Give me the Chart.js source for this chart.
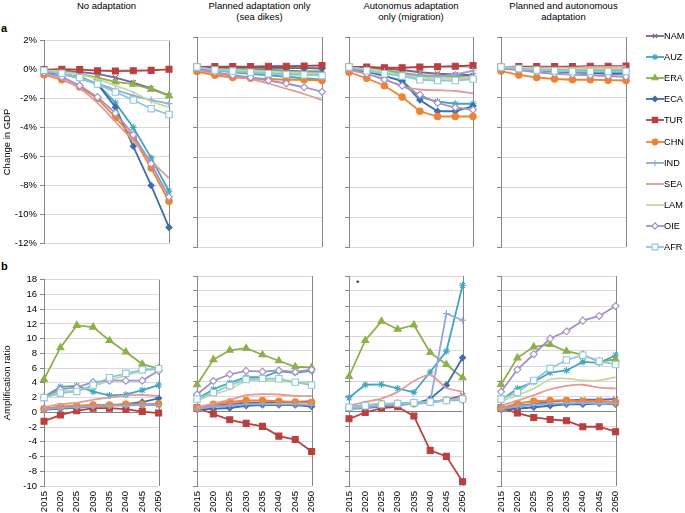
<!DOCTYPE html>
<html lang="en">
<head>
<meta charset="utf-8">
<title>Change in GDP and amplification ratio</title>
<script src="https://cdn.jsdelivr.net/npm/chart.js@4.4.1/dist/chart.umd.min.js"></script>
<style>
    body { margin: 0; background: #fff; }
    #pagina {
        position: relative; width: 685px; height: 513px; overflow: hidden;
        font-family: "Liberation Sans", Arial, sans-serif; color: #000;
    }
    #pagina canvas { position: absolute; }
    .titulo { position: absolute; width: 170px; text-align: center; font-size: 9.5px; line-height: 11px; }
    .letra { position: absolute; left: 1px; font-size: 11px; font-weight: bold; }
    .nota { position: absolute; font-size: 9px; }
    #legenda { position: absolute; left: 646px; top: 25px; width: 39px; }
    .item { height: 21.2px; display: flex; align-items: center; font-size: 9.2px; white-space: nowrap; }
    .item canvas { position: static !important; display: block; flex: none; }
</style>
</head>
<body>
<div id="pagina">
    <div id="legenda"></div>
</div>

<script>
// dados (ordem das linhas = ordem das regioes)
const anos = ["2015", "2020", "2025", "2030", "2035", "2040", "2045", "2050"];
const regioes = ["NAM", "AUZ", "ERA", "ECA", "TUR", "CHN", "IND", "SEA", "LAM", "OIE", "AFR"];
const titulosColunas = [
    ["No adaptation"],
    ["Planned adaptation only", "(sea dikes)"],
    ["Autonomus adaptation", "only (migration)"],
    ["Planned and autonomous", "adaptation"]
];
const ticksPib = [2, 0, -2, -4, -6, -8, -10, -12];
const ticksAmp = [18, 16, 14, 12, 10, 8, 6, 4, 2, 0, -2, -4, -6, -8, -10];

// a) variacao do PIB (%)
const pibSemAdaptacao = [
    [0, -0.05, -0.15, -0.3, -0.55, -0.9, -1.3, -1.8],
    [-0.1, -0.3, -0.6, -1.0, -2.3, -4.0, -6.1, -8.4],
    [0, -0.1, -0.3, -0.55, -0.85, -1.0, -1.35, -1.8],
    [-0.2, -0.3, -0.5, -1.0, -2.6, -5.3, -8.0, -10.9],
    [0, 0.03, 0, -0.07, -0.1, -0.08, -0.05, 0.02],
    [-0.35, -0.7, -1.2, -2.0, -3.3, -4.7, -6.8, -9.1],
    [-0.1, -0.3, -0.6, -0.95, -1.4, -1.8, -2.1, -2.35],
    [-0.3, -0.65, -1.3, -2.3, -3.6, -4.9, -6.3, -7.5],
    [-0.05, -0.15, -0.35, -0.65, -1.1, -1.55, -2.2, -2.6],
    [-0.2, -0.5, -1.1, -1.9, -3.0, -4.5, -6.5, -8.8],
    [-0.05, -0.25, -0.55, -1.0, -1.55, -2.1, -2.7, -3.1]
];
const pibDiques = [
    [-0.05, -0.1, -0.15, -0.2, -0.2, -0.25, -0.3, -0.3],
    [-0.1, -0.2, -0.35, -0.45, -0.55, -0.65, -0.75, -0.85],
    [-0.05, -0.1, -0.15, -0.2, -0.25, -0.3, -0.35, -0.35],
    [0, -0.02, -0.03, -0.05, -0.05, -0.07, -0.08, -0.1],
    [0, 0.03, 0.03, 0.03, 0.05, 0.05, 0.07, 0.1],
    [-0.3, -0.55, -0.7, -0.75, -0.8, -0.85, -0.85, -0.9],
    [-0.1, -0.2, -0.3, -0.35, -0.4, -0.45, -0.5, -0.55],
    [-0.2, -0.4, -0.6, -0.8, -1.1, -1.45, -1.8, -2.2],
    [-0.05, -0.15, -0.2, -0.25, -0.3, -0.35, -0.4, -0.45],
    [-0.1, -0.35, -0.55, -0.7, -0.9, -1.1, -1.35, -1.65],
    [0, -0.2, -0.27, -0.35, -0.45, -0.5, -0.53, -0.58]
];
const pibMigracao = [
    [0, -0.05, -0.1, -0.2, -0.35, -0.45, -0.5, -0.55],
    [-0.1, -0.3, -0.6, -0.9, -2.0, -2.3, -2.45, -2.45],
    [0, -0.1, -0.2, -0.4, -0.55, -0.6, -0.65, -0.7],
    [-0.15, -0.3, -0.6, -0.95, -2.2, -2.95, -2.95, -2.6],
    [0, 0, -0.05, -0.05, 0, 0.02, 0.05, 0.1],
    [-0.35, -0.75, -1.25, -2.0, -2.95, -3.3, -3.3, -3.3],
    [-0.05, -0.15, -0.3, -0.5, -0.6, -0.65, -0.5, -0.25],
    [-0.2, -0.45, -0.8, -1.3, -1.5, -1.55, -1.6, -1.75],
    [-0.05, -0.15, -0.3, -0.55, -0.7, -0.75, -0.75, -0.7],
    [-0.1, -0.45, -0.85, -1.25, -1.85, -2.4, -2.7, -2.85],
    [0, -0.25, -0.45, -0.6, -0.85, -0.9, -0.9, -0.8]
];
const pibAmbas = [
    [0, -0.05, -0.1, -0.15, -0.15, -0.2, -0.2, -0.2],
    [-0.05, -0.1, -0.2, -0.25, -0.3, -0.35, -0.35, -0.35],
    [0, -0.05, -0.1, -0.1, -0.15, -0.15, -0.15, -0.15],
    [-0.05, -0.1, -0.2, -0.3, -0.35, -0.4, -0.45, -0.45],
    [0, 0.03, 0.03, 0.03, 0.03, 0.05, 0.05, 0.07],
    [-0.27, -0.53, -0.7, -0.8, -0.85, -0.85, -0.88, -0.9],
    [-0.05, -0.1, -0.15, -0.2, -0.2, -0.25, -0.25, -0.25],
    [0, -0.05, -0.05, -0.05, -0.05, 0, 0, 0.05],
    [0, -0.05, -0.1, -0.1, -0.1, -0.1, -0.1, -0.1],
    [-0.1, -0.2, -0.35, -0.45, -0.5, -0.55, -0.6, -0.65],
    [0, -0.1, -0.2, -0.25, -0.3, -0.3, -0.3, -0.3]
];

// b) razao de amplificacao
const ampSemAdaptacao = [
    [0.5, 0.7, 0.8, 0.9, 1.0, 1.0, 1.0, 1.0],
    [2.1, 3.45, 3.6, 2.8, 2.3, 2.4, 3.0, 3.7],
    [4.47, 8.77, 11.8, 11.57, 9.75, 8.2, 6.55, 5.93],
    [0.35, 0.5, 0.6, 0.8, 0.9, 1.1, 1.4, 1.9],
    [-1.2, -0.37, 0.2, 0.56, 0.56, 0.43, 0.1, -0.1],
    [0.47, 0.8, 0.9, 1.0, 1.0, 1.1, 1.1, 1.15],
    [0.4, 0.6, 0.7, 0.8, 0.9, 0.9, 1.0, 1.0],
    [0.7, 1.1, 1.3, 1.7, 2.0, 2.3, 2.35, 2.2],
    [2.0, 2.8, 3.0, 3.5, 4.3, 5.0, 5.6, 5.9],
    [2.1, 3.1, 3.4, 4.1, 4.3, 4.3, 4.3, 5.65],
    [1.98, 2.6, 2.83, 3.7, 4.7, 5.3, 5.75, 5.93]
];
const ampDiques = [
    [0.4, 0.7, 0.9, 1.1, 1.1, 1.2, 1.2, 1.3],
    [1.6, 2.9, 3.75, 4.5, 4.5, 5.3, 5.1, 5.35],
    [3.5, 6.85, 8.1, 8.37, 7.5, 6.7, 5.9, 5.8],
    [0.2, 0.3, 0.4, 0.7, 0.8, 0.8, 0.8, 0.6],
    [0.43, -0.4, -1.17, -1.65, -2.05, -3.35, -3.8, -5.4],
    [0.4, 0.9, 1.2, 1.4, 1.4, 1.3, 1.2, 1.1],
    [0.3, 0.6, 0.7, 0.9, 0.9, 0.9, 0.9, 0.8],
    [0.5, 1.0, 1.5, 2.1, 2.25, 2.2, 2.0, 2.0],
    [1.4, 2.2, 2.9, 4.0, 4.1, 4.0, 3.8, 3.9],
    [2.2, 4.0, 4.9, 5.35, 5.25, 5.4, 5.2, 5.5],
    [1.6, 2.45, 3.4, 4.2, 4.35, 4.3, 3.85, 3.45]
];
const ampMigracao = [
    [0.4, 0.6, 0.8, 1.0, 1.0, 1.1, 1.5, 2.1],
    [1.76, 3.5, 3.54, 3.0, 2.5, 5.2, 7.97, 16.76],
    [4.6, 9.4, 11.96, 10.9, 11.47, 7.8, 6.2, 4.43],
    [0.3, 0.4, 0.6, 0.8, 1.0, 1.6, 3.45, 7.1],
    [-1.04, -0.2, 0.39, 0.56, -0.68, -5.25, -6.05, -9.42],
    [0.47, 0.8, 0.96, 1.0, 0.96, 1.2, 1.45, 1.76],
    [0.3, 0.5, 0.7, 0.9, 1.0, 1.2, 13.0, 12.1],
    [0.7, 1.2, 1.65, 2.55, 4.0, 4.8, 3.1, 2.55],
    [0.5, 0.7, 0.9, 1.0, 1.1, 1.2, 1.4, 1.6],
    [0.5, 0.7, 0.8, 1.0, 1.1, 1.2, 1.4, 1.5],
    [0.5, 0.7, 0.9, 1.0, 1.1, 1.2, 1.4, 1.6]
];
const ampAmbas = [
    [0.4, 0.7, 0.9, 1.3, 1.4, 1.5, 1.5, 1.6],
    [1.45, 3.0, 3.89, 5.13, 5.4, 6.55, 6.42, 7.44],
    [3.54, 7.09, 8.55, 8.86, 7.97, 7.5, 6.55, 6.9],
    [0.2, 0.3, 0.5, 0.7, 0.9, 0.9, 1.0, 0.9],
    [0.43, -0.28, -0.86, -1.13, -1.3, -2.1, -2.1, -2.76],
    [0.4, 1.0, 1.3, 1.4, 1.4, 1.3, 1.3, 1.2],
    [0.3, 0.6, 0.8, 1.0, 1.0, 1.1, 1.0, 1.0],
    [0.7, 1.4, 2.1, 2.9, 3.35, 3.5, 3.13, 3.0],
    [1.3, 2.1, 3.0, 4.2, 4.33, 4.07, 4.07, 4.5],
    [2.56, 5.53, 7.57, 9.66, 10.63, 12.05, 12.67, 14.0],
    [1.59, 2.47, 4.07, 5.66, 6.8, 7.44, 6.64, 6.2]
];

// estilos de cada regiao (cor, marcador)
const estilos = {
    NAM: { cor: "#7e5fa0", marcador: "crossRot", raio: 3.5 },
    AUZ: { cor: "#3fa7c0", marcador: "star", raio: 3.5 },
    ERA: { cor: "#8db04a", marcador: "triangle", raio: 4 },
    ECA: { cor: "#3c6eb0", marcador: "rectRot", raio: 3 },
    TUR: { cor: "#b9403e", marcador: "rect", raio: 4.2 },
    CHN: { cor: "#ee8432", marcador: "circle", raio: 3.2 },
    IND: { cor: "#8eaadb", marcador: "cross", raio: 3.5 },
    SEA: { cor: "#e39a98", marcador: false, raio: 0, curva: 0.25 },
    LAM: { cor: "#c4da9c", marcador: false, raio: 0, curva: 0.25 },
    OIE: { cor: "#a390c4", marcador: "rectRot", raio: 3.5, vazado: true },
    AFR: { cor: "#8cc8d8", marcador: "rect", raio: 4.5, vazado: true }
};

const colunas = [
    { x: 44, largura: 125 },
    { x: 197, largura: 125 },
    { x: 349, largura: 124 },
    { x: 501, largura: 125 }
];
const topoLinhas = [37, 276];
const alturaPlot = 210;

Chart.defaults.font.family = '"Liberation Sans", Arial, sans-serif';
Chart.defaults.color = "#000";

const bordaDireita = {
    id: "bordaDireita",
    beforeDatasetsDraw(chart) {
        const a = chart.chartArea;
        const ctx = chart.ctx;
        ctx.save();
        ctx.strokeStyle = "#868686";
        ctx.lineWidth = 1;
        ctx.beginPath();
        ctx.moveTo(Math.round(a.right) + 0.5, a.top);
        ctx.lineTo(Math.round(a.right) + 0.5, a.bottom);
        ctx.stroke();
        ctx.restore();
    }
};

function montarDatasets(dados) {
    return regioes.map((r, i) => {
        const e = estilos[r];
        return {
            label: r,
            data: dados[i],
            borderColor: e.cor,
            backgroundColor: e.cor,
            borderWidth: 1.8,
            pointStyle: e.marcador || "circle",
            pointRadius: e.raio,
            pointBackgroundColor: e.vazado ? "#fff" : e.cor,
            pointBorderColor: e.cor,
            pointBorderWidth: 1.1,
            tension: e.curva || 0,
            order: regioes.length - i,
            clip: false
        };
    });
}

function criarPainel(dados, coluna, linha) {
    const baixo = linha === 1;
    const esquerda = coluna === 0;
    const pos = colunas[coluna];
    const topo = topoLinhas[linha];

    const canvas = document.createElement("canvas");
    canvas.width = 44 + pos.largura + 6;
    canvas.height = 5 + alturaPlot + (baixo ? 30 : 5);
    canvas.style.left = (pos.x - 44) + "px";
    canvas.style.top = (topo - 5) + "px";
    document.getElementById("pagina").appendChild(canvas);

    const ticks = baixo ? ticksAmp : ticksPib;

    new Chart(canvas, {
        type: "line",
        data: { labels: anos, datasets: montarDatasets(dados) },
        plugins: [bordaDireita],
        options: {
            responsive: false,
            animation: false,
            events: [],
            layout: {
                autoPadding: false,
                padding: { top: 5, right: 6, bottom: baixo ? 0 : 5, left: 0 }
            },
            plugins: { legend: { display: false }, tooltip: { enabled: false } },
            scales: {
                x: {
                    type: "category",
                    offset: false,
                    grid: { display: false, drawTicks: false, tickLength: 0 },
                    border: { display: false },
                    ticks: {
                        display: baixo,
                        autoSkip: false,
                        minRotation: 90,
                        maxRotation: 90,
                        padding: 5,
                        font: { size: 9.5 }
                    },
                    afterFit: s => { s.height = baixo ? 30 : 0; }
                },
                y: {
                    min: Math.min(...ticks),
                    max: Math.max(...ticks),
                    afterBuildTicks: s => { s.ticks = ticks.map(v => ({ value: v })); },
                    grid: {
                        color: c => (baixo && c.tick && c.tick.value === 0) ? "#868686" : "#d9d9d9",
                        tickColor: "#868686",
                        tickLength: 4
                    },
                    border: { color: "#868686" },
                    ticks: {
                        display: esquerda,
                        padding: 3,
                        font: { size: 9.5 },
                        callback: v => baixo ? String(v) : v + "%"
                    },
                    title: {
                        display: esquerda,
                        text: baixo ? "Amplification ratio" : "Change in GDP",
                        font: { size: 9.5 },
                        padding: { top: 2, bottom: 0 }
                    },
                    afterFit: s => { s.width = 44; }
                }
            }
        }
    });
}

function criarTitulos() {
    const pagina = document.getElementById("pagina");
    titulosColunas.forEach((linhas, i) => {
        const d = document.createElement("div");
        d.className = "titulo";
        d.style.left = (colunas[i].x + colunas[i].largura / 2 - 85) + "px";
        d.style.top = "0px";
        d.innerHTML = linhas.join("<br>");
        pagina.appendChild(d);
    });

    const a = document.createElement("div");
    a.className = "letra";
    a.style.top = "22px";
    a.textContent = "a";
    pagina.appendChild(a);

    const b = document.createElement("div");
    b.className = "letra";
    b.style.top = "260px";
    b.textContent = "b";
    pagina.appendChild(b);

    const nota = document.createElement("div");
    nota.className = "nota";
    nota.style.left = "356px";
    nota.style.top = "278px";
    nota.textContent = "*";
    pagina.appendChild(nota);
}

function criarLegenda() {
    const caixa = document.getElementById("legenda");
    regioes.forEach(r => {
        const e = estilos[r];
        const item = document.createElement("div");
        item.className = "item";

        const c = document.createElement("canvas");
        c.width = 18;
        c.height = 10;
        const ctx = c.getContext("2d");
        ctx.strokeStyle = e.cor;
        ctx.lineWidth = 1.8;
        ctx.beginPath();
        ctx.moveTo(0, 5);
        ctx.lineTo(18, 5);
        ctx.stroke();
        if (e.marcador) {
            ctx.fillStyle = e.vazado ? "#fff" : e.cor;
            ctx.strokeStyle = e.cor;
            ctx.lineWidth = 1.1;
            Chart.helpers.drawPoint(ctx, {
                pointStyle: e.marcador,
                radius: e.raio * 0.9,
                rotation: 0,
                borderWidth: 1.1
            }, 9, 5);
        }

        const span = document.createElement("span");
        span.textContent = r;
        item.appendChild(c);
        item.appendChild(span);
        caixa.appendChild(item);
    });
}

criarTitulos();
criarLegenda();
criarPainel(pibSemAdaptacao, 0, 0);
criarPainel(pibDiques, 1, 0);
criarPainel(pibMigracao, 2, 0);
criarPainel(pibAmbas, 3, 0);
criarPainel(ampSemAdaptacao, 0, 1);
criarPainel(ampDiques, 1, 1);
criarPainel(ampMigracao, 2, 1);
criarPainel(ampAmbas, 3, 1);
</script>
</body>
</html>
